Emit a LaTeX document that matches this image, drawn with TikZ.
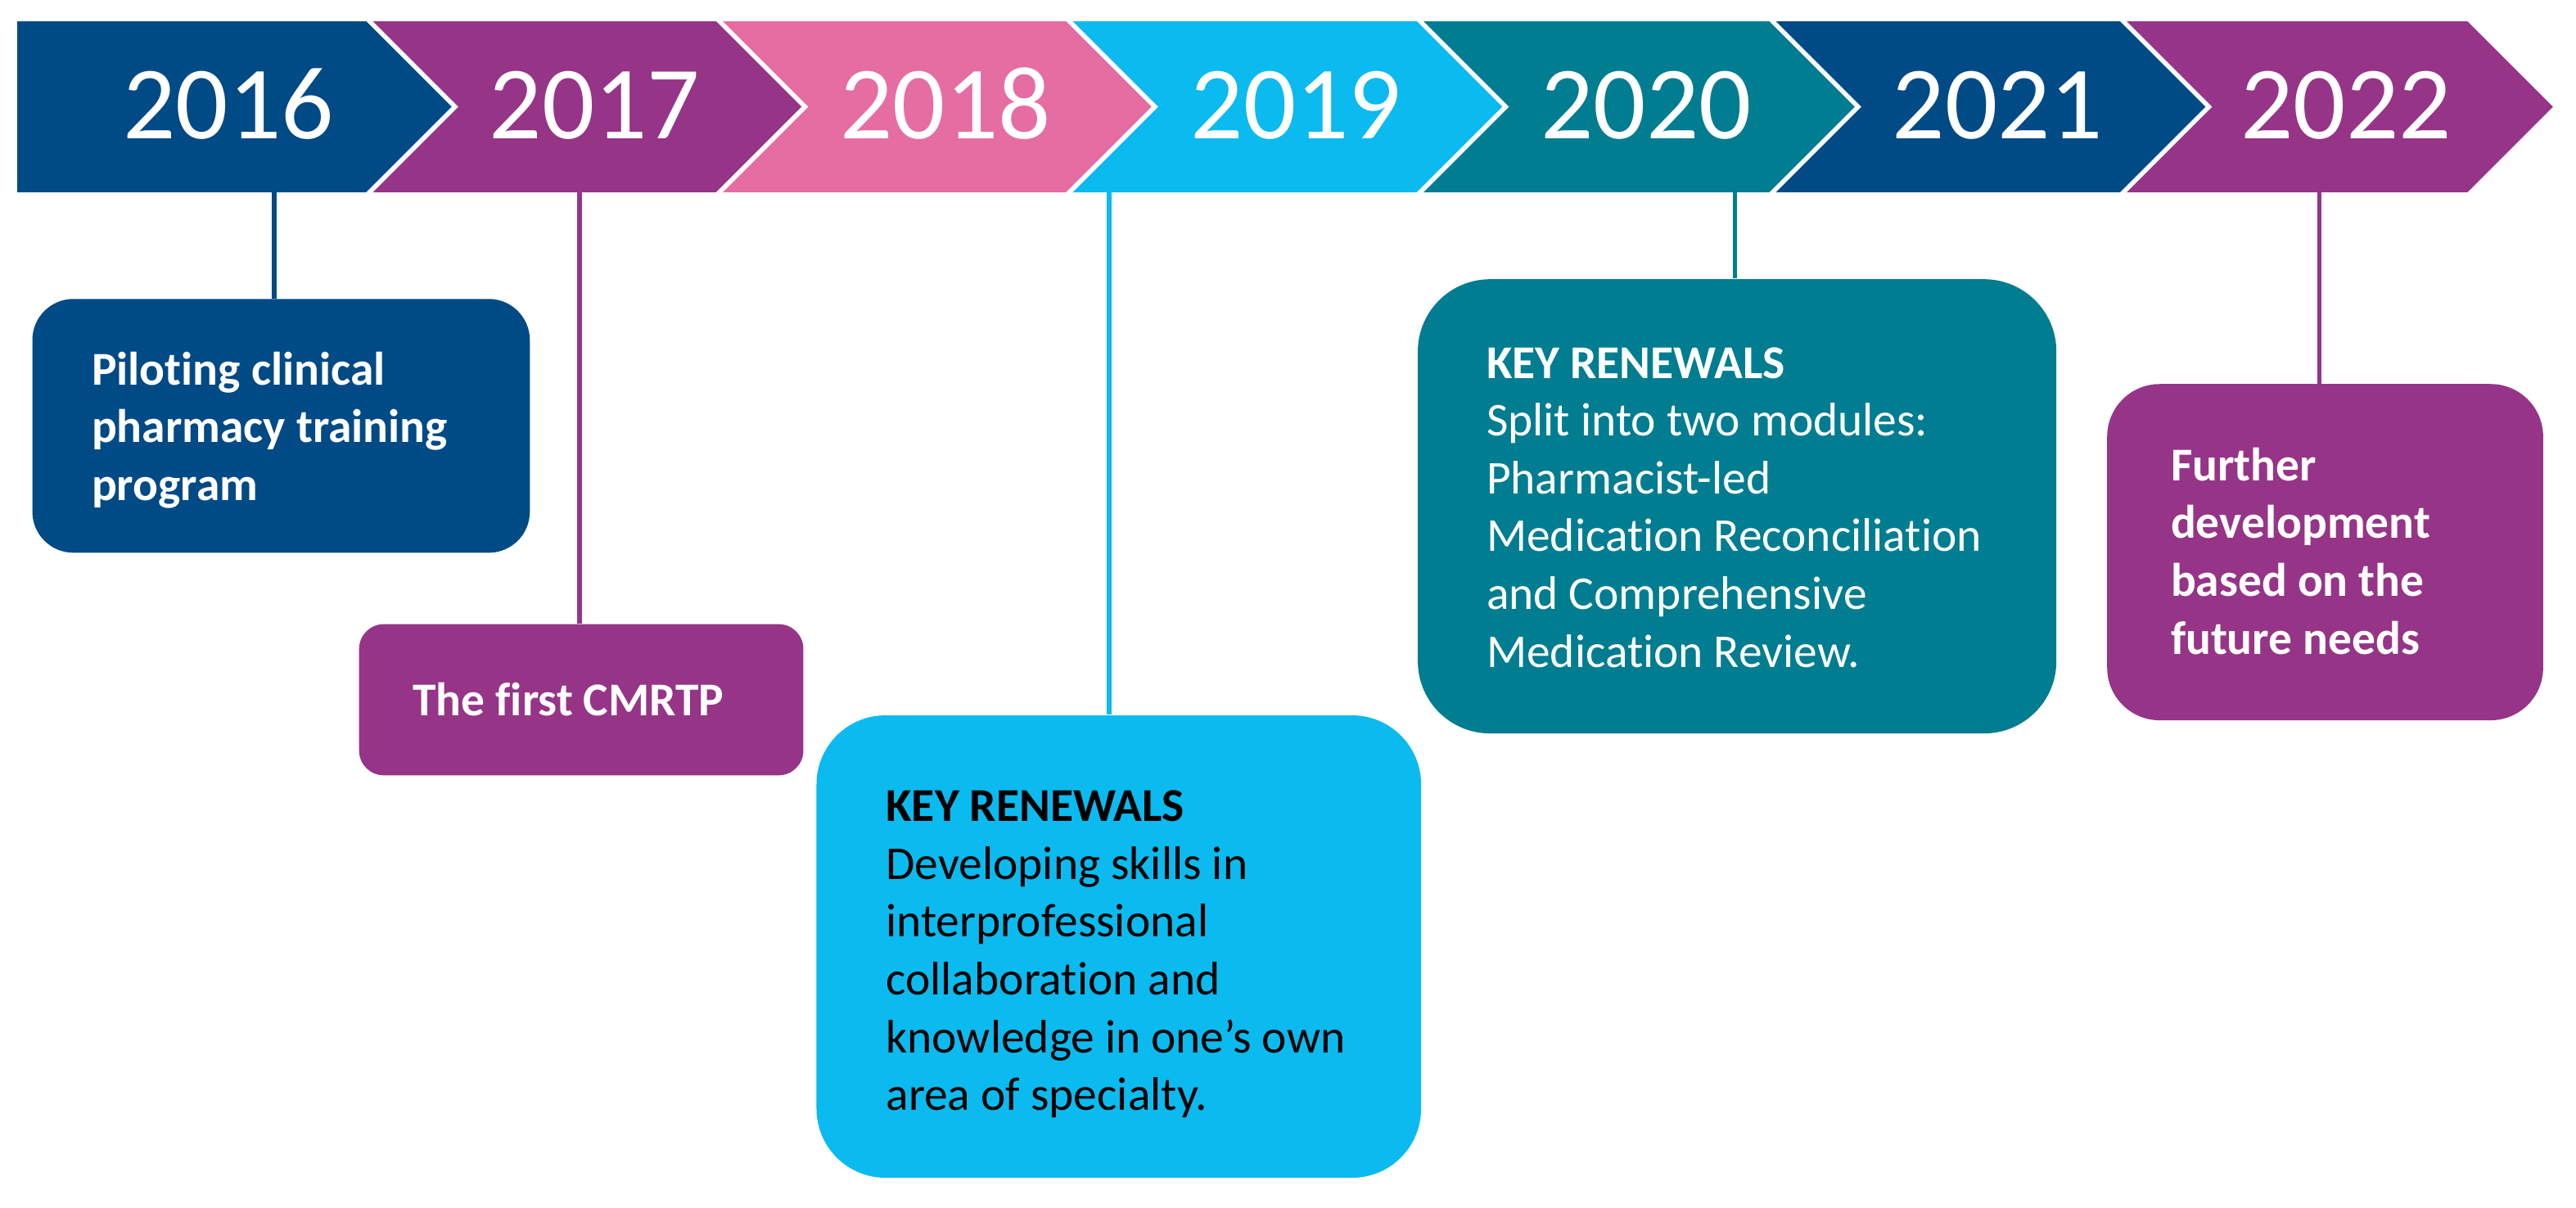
\documentclass[tikz,border=0pt]{standalone}
\usepackage{fontspec}
\setmainfont[Ligatures=NoCommon]{Carlito}
\definecolor{dblue}{RGB}{0,74,134}
\definecolor{cpurple}{RGB}{150,52,135}
\definecolor{cpink}{RGB}{229,109,162}
\definecolor{lblue}{RGB}{11,186,238}
\definecolor{cteal}{RGB}{0,125,144}
\begin{document}
\begin{tikzpicture}[x=0.2mm,y=-0.2mm,
  yearlbl/.style={text=white, font=\fontsize{36pt}{40pt}\selectfont, inner sep=0, anchor=base},
  card/.style={rounded corners=#1, inner sep=0, draw=none},
  cardtext/.style={inner sep=0, anchor=north west, align=left, font=\fontsize{16.3pt}{20pt}\selectfont},
  cardbold/.style={inner sep=0, anchor=north west, align=left, font=\fontsize{16.3pt}{20pt}\selectfont\bfseries},
  conn/.style={line width=0.55mm},
  sepline/.style={draw=white, line width=0.55mm}]
\useasboundingbox (0,0) rectangle (1568,735.4);

% chevrons
\fill[dblue]   (10.5,13) -- (225,13) -- (277,65) -- (225,117) -- (10.5,117) -- cycle;
\fill[cpurple] (225,13) -- (438,13) -- (490,65) -- (438,117) -- (225,117) -- (277,65) -- cycle;
\fill[cpink]   (438,13) -- (651,13) -- (703,65) -- (651,117) -- (438,117) -- (490,65) -- cycle;
\fill[lblue]   (651,13) -- (864.5,13) -- (916.5,65) -- (864.5,117) -- (651,117) -- (703,65) -- cycle;
\fill[cteal]   (864.5,13) -- (1079,13) -- (1131,65) -- (1079,117) -- (864.5,117) -- (916.5,65) -- cycle;
\fill[dblue]   (1079,13) -- (1292.5,13) -- (1344.5,65) -- (1292.5,117) -- (1079,117) -- (1131,65) -- cycle;
\fill[cpurple] (1292.5,13) -- (1502,13) -- (1554,65) -- (1502,117) -- (1292.5,117) -- (1344.5,65) -- cycle;
% white separators
\draw[sepline] (223,11) -- (277,65) -- (223,119);
\draw[sepline] (436,11) -- (490,65) -- (436,119);
\draw[sepline] (649,11) -- (703,65) -- (649,119);
\draw[sepline] (862.5,11) -- (916.5,65) -- (862.5,119);
\draw[sepline] (1077,11) -- (1131,65) -- (1077,119);
\draw[sepline] (1290.5,11) -- (1344.5,65) -- (1290.5,119);

% year labels
\node[yearlbl] (y2016) at (139,84.3) {2016};
\node[yearlbl] (y2017) at (362,84.3) {2017};
\node[yearlbl] (y2018) at (575.5,84.3) {2018};
\node[yearlbl] (y2019) at (789,84.3) {2019};
\node[yearlbl] (y2020) at (1002,84.3) {2020};
\node[yearlbl] (y2021) at (1216,84.3) {2021};
\node[yearlbl] (y2022) at (1428,84.3) {2022};

% cards
\node[card=5mm, fill=dblue, minimum width=60.56mm, minimum height=30.9mm] (b2016) at (171.1,259.25) {};
\node[card=3mm, fill=cpurple, minimum width=54.08mm, minimum height=18.4mm] (b2017) at (353.8,426) {};
\node[card=8.4mm, fill=lblue, minimum width=73.6mm, minimum height=56.3mm] (b2019) at (681,576.25) {};
\node[card=8.8mm, fill=cteal, minimum width=77.74mm, minimum height=55.3mm] (b2020) at (1057.35,308.25) {};
\node[card=6.4mm, fill=cpurple, minimum width=53.08mm, minimum height=40.94mm] (b2022) at (1415.3,336.15) {};

% connectors
\coordinate (c2016) at (167,117);
\coordinate (c2017) at (352.7,117);
\coordinate (c2019) at (675,117);
\coordinate (c2020) at (1056,117);
\coordinate (c2022) at (1411.7,117);
\draw[conn, dblue] (c2016) -- (c2016 |- b2016.north);
\draw[conn, cpurple] (c2017) -- (c2017 |- b2017.north);
\draw[conn, lblue] (c2019) -- (c2019 |- b2019.north);
\draw[conn, cteal] (c2020) -- (c2020 |- b2020.north);
\draw[conn, cpurple] (c2022) -- (c2022 |- b2022.north);

% card texts
\node[cardbold, text=white] (t2016) at (55.5,211.1)
  {\rule{0pt}{0.8em}Piloting clinical\\pharmacy training\\program};
\node[cardbold, text=white] (t2017) at (251,412.7)
  {\rule{0pt}{0.8em}The first CMRTP};
\node[cardtext, text=black] (t2019) at (539,476.9)
  {\rule{0pt}{0.8em}\textbf{KEY RENEWALS}\\Developing skills in\\interprofessional\\collaboration and\\knowledge in one’s own\\area of specialty.};
\node[cardtext, text=white] (t2020) at (904.5,207.1)
  {\rule{0pt}{0.8em}\textbf{KEY RENEWALS}\\Split into two modules:\\Pharmacist-led\\Medication Reconciliation\\and Comprehensive\\Medication Review.};
\node[cardbold, text=white] (t2022) at (1321,269.4)
  {\rule{0pt}{0.8em}Further\\development\\based on the\\future needs};
\end{tikzpicture}
\end{document}
